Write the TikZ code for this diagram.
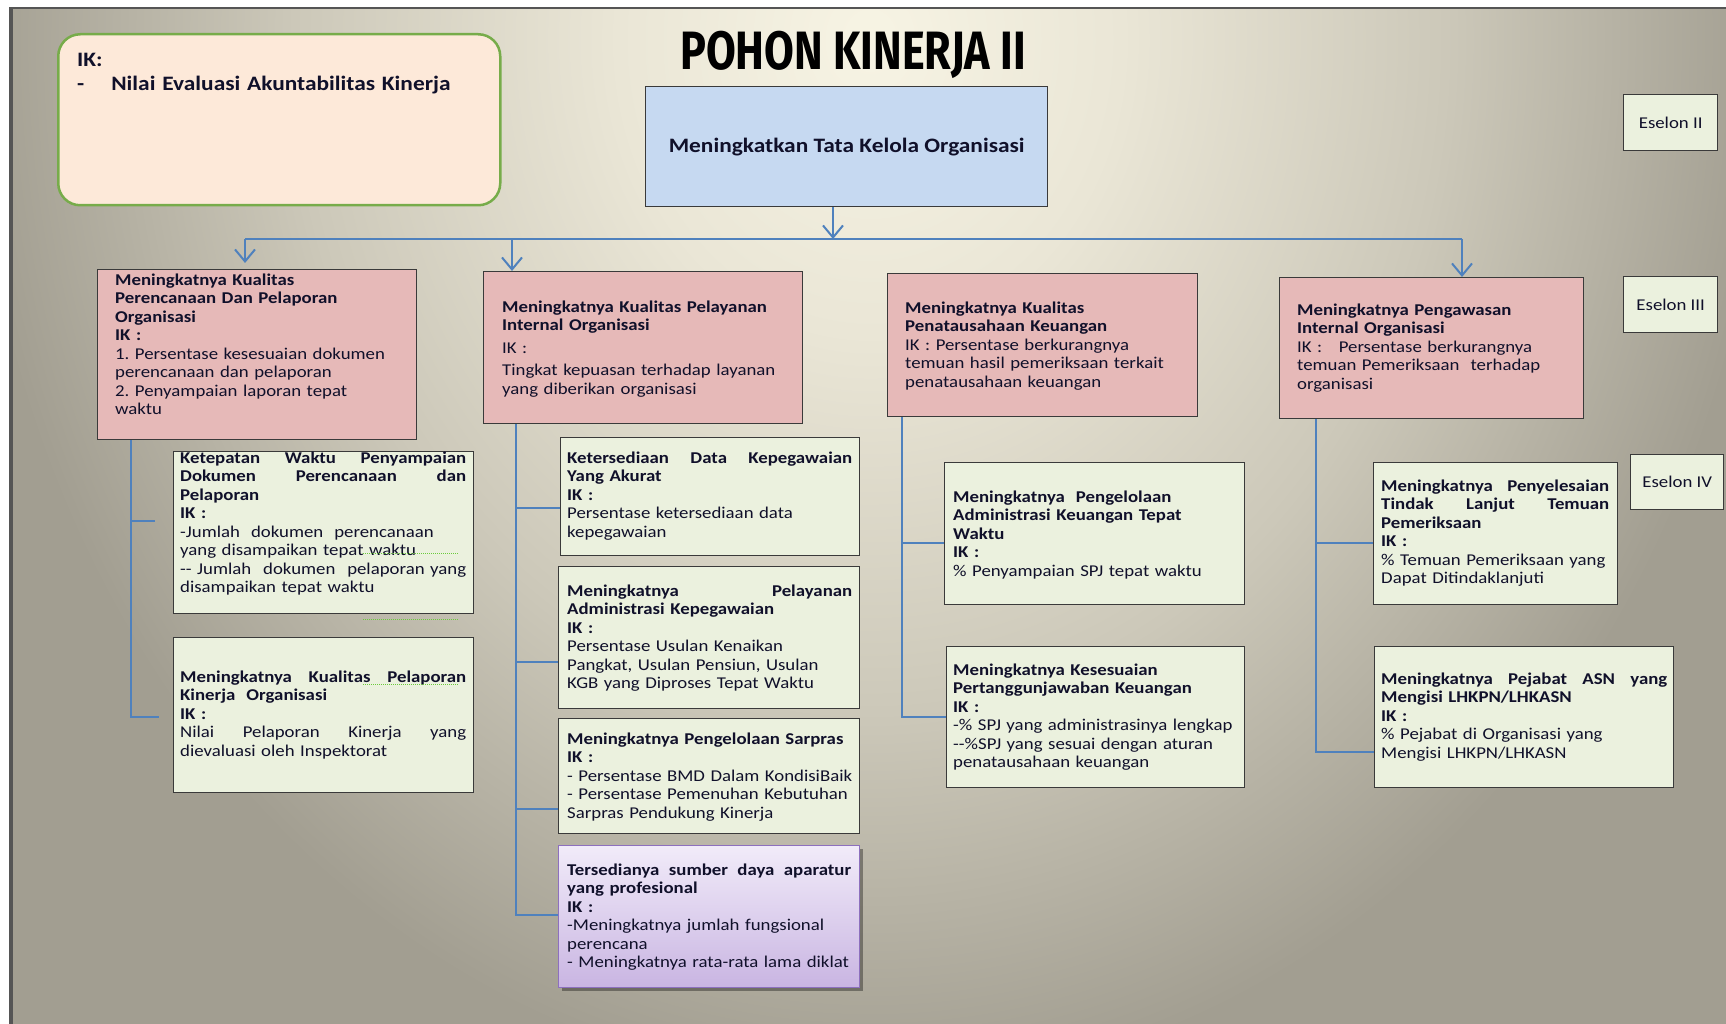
\documentclass[tikz,border=0pt]{standalone}
\usepackage{fontspec}
\setmainfont{Carlito}[FakeStretch=1.14]
\newfontfamily\titlefont{Fira Sans}[FakeStretch=0.8]
\usetikzlibrary{arrows.meta,shadows,calc}
\definecolor{bgA}{HTML}{F7F4E4}
\definecolor{bgB}{HTML}{EAE6D6}
\definecolor{bgC}{HTML}{CCC8B9}
\definecolor{bgD}{HTML}{A29E91}
\definecolor{edgegray}{HTML}{555555}
\definecolor{pinkfill}{HTML}{E6B9B8}
\definecolor{greenfill}{HTML}{EBF1DE}
\definecolor{goalblue}{HTML}{C6D9F1}
\definecolor{ikfill}{HTML}{FDE9D9}
\definecolor{ikline}{HTML}{77AC4A}
\definecolor{purpleA}{HTML}{F1EBF9}
\definecolor{purpleB}{HTML}{C9B5E2}
\definecolor{purpleline}{HTML}{8D70BE}
\definecolor{boxline}{HTML}{3A3A3A}
\definecolor{connblue}{HTML}{4F81BD}
\definecolor{ink}{HTML}{10102A}
\definecolor{spellgreen}{HTML}{6CCB3C}
\pgfdeclareradialshading{slidebg}{\pgfpoint{0bp}{0bp}}{color(0bp)=(bgA); color(7bp)=(bgB); color(16bp)=(bgC); color(25bp)=(bgD); color(50bp)=(bgD)}
\newcommand\bodyfont{\fontsize{16.5}{18.5}\selectfont}
\begin{document}
\frenchspacing
\begin{tikzpicture}[x=1pt,y=-1pt,
  box/.style={draw=boxline, line width=1.4pt, inner sep=0pt, anchor=north west},
  pinkbox/.style={box, fill=pinkfill},
  greenbox/.style={box, fill=greenfill},
  txt/.style={anchor=north west, inner sep=0pt, text width=#1, align=left, font=\bodyfont, text=ink},
  txt/.default=290pt,
  eselon/.style={greenbox, font=\bodyfont, text=ink},
  conn/.style={draw=connblue, line width=1.8pt},
  arr/.style={conn, -{Straight Barb[length=12pt,width=20pt,line width=2pt]}},
  spell/.style={draw=spellgreen, line width=1pt, densely dotted}
]
\useasboundingbox (0,0) rectangle (1726,1024);
\fill[white] (0,0) rectangle (1726,1024);
\begin{scope}
  \clip (10,8) rectangle (1726,1024);
  \shade[shading=slidebg] (-30,-1010) rectangle (1770,1090);
\end{scope}
\fill[edgegray] (10,7) rectangle (1726,9.5);
\fill[edgegray] (9,7) rectangle (13,1024);

% title
\node[font=\titlefont\bfseries\fontsize{54}{60}\selectfont, text=black, inner sep=0pt, anchor=base] (title) at (853,70) {POHON KINERJA II};

% IK box
\node[draw=ikline, line width=2.5pt, fill=ikfill, rounded corners=22pt, minimum width=442pt, minimum height=171pt, anchor=north west, inner sep=0pt] (ikbox) at (57,33) {};
\node[anchor=north west, inner sep=0pt, text width=420pt, align=left, font=\bfseries\fontsize{20.5}{24}\selectfont, text=ink] (iktxt) at (77,50) {\strut IK:\\ -\hspace{27pt}Nilai Evaluasi Akuntabilitas Kinerja};

% goal
\node[box, fill=goalblue, minimum width=402pt, minimum height=120pt, font=\bfseries\fontsize{20.5}{24}\selectfont, text=ink] (goal) at (645,86) {Meningkatkan Tata Kelola Organisasi};

% eselon labels
\node[eselon, minimum width=94pt, minimum height=56pt] (es2) at (1623,94) {Eselon II};
\node[eselon, minimum width=94pt, minimum height=56pt] (es3) at (1623,276) {Eselon III};
\node[eselon, minimum width=93pt, minimum height=55pt] (es4) at (1630,454) {Eselon IV};

% level 3 boxes
\node[pinkbox, minimum width=319pt, minimum height=170pt] (b1) at (97,269) {};
\node[txt] (b1t) at (115,272) {\strut\textbf{Meningkatnya Kualitas}\\
\textbf{Perencanaan Dan Pelaporan}\\
\textbf{Organisasi}\\
\textbf{IK :}\\
1. Persentase kesesuaian dokumen\\
perencanaan dan pelaporan\\
2. Penyampaian laporan tepat\\
waktu};

\node[pinkbox, minimum width=319pt, minimum height=152pt] (b2) at (483,271) {};
\node[txt] (b2t) at (502,299) {\strut\textbf{Meningkatnya Kualitas Pelayanan}\\
\textbf{Internal Organisasi}\\[4.5pt]
IK :\\[3.5pt]
Tingkat kepuasan terhadap layanan\\
yang diberikan organisasi};

\node[pinkbox, minimum width=310pt, minimum height=143pt] (b3) at (887,273) {};
\node[txt] (b3t) at (905,300) {\strut\textbf{Meningkatnya Kualitas}\\
\textbf{Penatausahaan Keuangan}\\
IK : Persentase berkurangnya\\
temuan hasil pemeriksaan terkait\\
penatausahaan keuangan};

\node[pinkbox, minimum width=304pt, minimum height=141pt] (b4) at (1279,277) {};
\node[txt] (b4t) at (1297,302) {\strut\textbf{Meningkatnya Pengawasan}\\
\textbf{Internal Organisasi}\\
IK :\ \ \ Persentase berkurangnya\\
temuan Pemeriksaan\ \ terhadap\\
organisasi};

% level 4 boxes, column 1
\node[greenbox, minimum width=300pt, minimum height=162pt] (b1a) at (173,451) {};
\node[txt=286pt] (b1at) at (180,450) {\strut\textbf{Ketepatan\hfill Waktu\hfill Penyampaian}\\
\textbf{Dokumen\hfill Perencanaan\hfill dan}\\
\textbf{Pelaporan}\\
\textbf{IK :}\\
-Jumlah\ \ dokumen\ \ perencanaan\\
yang disampaikan tepat waktu\\
-{}- Jumlah\hfill dokumen\hfill pelaporan yang\\
disampaikan tepat waktu};

\node[greenbox, minimum width=300pt, minimum height=155pt] (b1b) at (173,637) {};
\node[txt=286pt] (b1bt) at (180,669) {\strut\textbf{Meningkatnya\hfill Kualitas\hfill Pelaporan}\\
\textbf{Kinerja\ \ Organisasi}\\
\textbf{IK :}\\
Nilai\hfill Pelaporan\hfill Kinerja\hfill yang\\
dievaluasi oleh Inspektorat};

% column 2
\node[greenbox, minimum width=299pt, minimum height=118pt] (b2a) at (560,437) {};
\node[txt=285pt] (b2at) at (567,450) {\strut\textbf{Ketersediaan\hfill Data\hfill Kepegawaian}\\
\textbf{Yang Akurat}\\
\textbf{IK :}\\
Persentase ketersediaan data\\
kepegawaian};

\node[greenbox, minimum width=301pt, minimum height=142pt] (b2b) at (558,566) {};
\node[txt=285pt] (b2bt) at (567,583) {\strut\textbf{Meningkatnya\hfill Pelayanan}\\
\textbf{Administrasi Kepegawaian}\\
\textbf{IK :}\\
Persentase Usulan Kenaikan\\
Pangkat, Usulan Pensiun, Usulan\\
KGB yang Diproses Tepat Waktu};

\node[greenbox, minimum width=301pt, minimum height=115pt] (b2c) at (558,718) {};
\node[txt=285pt] (b2ct) at (567,731) {\strut\textbf{Meningkatnya Pengelolaan Sarpras}\\
\textbf{IK :}\\
- Persentase BMD Dalam KondisiBaik\\
- Persentase Pemenuhan Kebutuhan\\
Sarpras Pendukung Kinerja};

\node[box, draw=purpleline, top color=purpleA, bottom color=purpleB, minimum width=301pt, minimum height=142pt,
  drop shadow={shadow xshift=3pt, shadow yshift=-3pt, fill=black, opacity=0.35}] (b2d) at (558,845) {};
\node[txt=284pt] (b2dt) at (567,862) {\strut\textbf{Tersedianya\hfill sumber\hfill daya\hfill aparatur}\\
\textbf{yang profesional}\\
\textbf{IK :}\\
-Meningkatnya jumlah fungsional\\
perencana\\
- Meningkatnya rata-rata lama diklat};

% column 3
\node[greenbox, minimum width=300pt, minimum height=142pt] (b3a) at (944,462) {};
\node[txt] (b3at) at (953,489) {\strut\textbf{Meningkatnya\ \ Pengelolaan}\\
\textbf{Administrasi Keuangan Tepat}\\
\textbf{Waktu}\\
\textbf{IK :}\\
\% Penyampaian SPJ tepat waktu};

\node[greenbox, minimum width=298pt, minimum height=141pt] (b3b) at (946,646) {};
\node[txt] (b3bt) at (953,662) {\strut\textbf{Meningkatnya Kesesuaian}\\
\textbf{Pertanggunjawaban Keuangan}\\
\textbf{IK :}\\
-\% SPJ yang administrasinya lengkap\\
-{}-\%SPJ yang sesuai dengan aturan\\
penatausahaan keuangan};

% column 4
\node[greenbox, minimum width=244pt, minimum height=142pt] (b4a) at (1373,462) {};
\node[txt=228pt] (b4at) at (1381,478) {\strut\textbf{Meningkatnya\hfill Penyelesaian}\\
\textbf{Tindak\hfill Lanjut\hfill Temuan}\\
\textbf{Pemeriksaan}\\
\textbf{IK :}\\
\% Temuan Pemeriksaan yang\\
Dapat Ditindaklanjuti};

\node[greenbox, minimum width=299pt, minimum height=141pt] (b4b) at (1374,646) {};
\node[txt=286pt] (b4bt) at (1381,671) {\strut\textbf{Meningkatnya\hfill Pejabat\hfill ASN\hfill yang}\\
\textbf{Mengisi LHKPN/LHKASN}\\
\textbf{IK :}\\
\% Pejabat di Organisasi yang\\
Mengisi LHKPN/LHKASN};

% spell-check marks
\draw[spell] (363,553) -- (458,553);
\draw[spell] (363,619) -- (458,619);
\draw[spell] (363,684) -- (458,684);

% connectors
\coordinate (hub) at (833,239);
\coordinate (busL) at (245,239);
\coordinate (busR) at (1462,239);
\coordinate (a2) at (512,239);
\draw[arr] (goal.south -| hub) -- (hub);
\draw[conn] (busL) -- (busR);
\draw[arr] (busL) -- ($(b1.north -| busL)+(0,-6)$);
\draw[arr] (a2) -- (b2.north -| a2);
\draw[arr] (busR) -- (b4.north -| busR);

\coordinate (j1a) at (131,521);
\coordinate (j1b) at (131,717);
\coordinate (e1a) at (155,521);
\coordinate (e1b) at (159,717);
\draw[conn] (b1.south -| j1b) -- (j1b) -- (e1b);
\draw[conn] (j1a) -- (e1a);

\coordinate (j2a) at (516,508);
\coordinate (j2b) at (516,662);
\coordinate (j2c) at (516,809);
\coordinate (j2d) at (516,915);
\draw[conn] (b2.south -| j2d) -- (j2d) -- (j2d -| b2d.west);
\draw[conn] (j2a) -- (j2a -| b2a.west);
\draw[conn] (j2b) -- (j2b -| b2b.west);
\draw[conn] (j2c) -- (j2c -| b2c.west);

\coordinate (j3a) at (902,543);
\coordinate (j3b) at (902,717);
\draw[conn] (b3.south -| j3b) -- (j3b) -- (j3b -| b3b.west);
\draw[conn] (j3a) -- (j3a -| b3a.west);

\coordinate (j4a) at (1316,543);
\coordinate (j4b) at (1316,752);
\draw[conn] (b4.south -| j4b) -- (j4b) -- (j4b -| b4b.west);
\draw[conn] (j4a) -- (j4a -| b4a.west);
\end{tikzpicture}
\end{document}
